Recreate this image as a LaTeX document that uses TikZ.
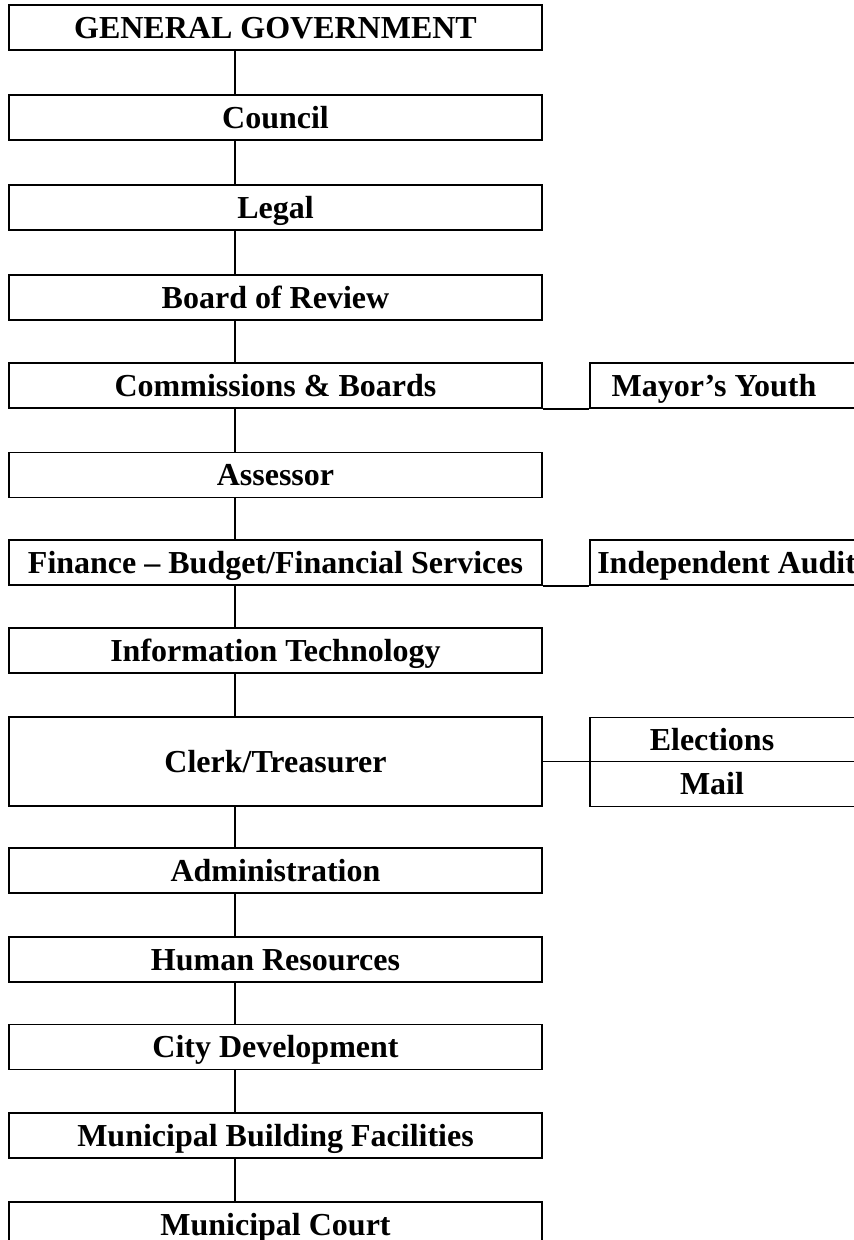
\documentclass[tikz,border=0pt]{standalone}
\usepackage{fontspec}
\setmainfont{Liberation Serif}
\begin{document}
\begin{tikzpicture}[x=0.75pt,y=-0.75pt,
  box/.style={draw, line width=1.4pt, rectangle, inner sep=0pt,
    minimum width=399.75pt, minimum height=33.75pt,
    text height=20pt, text depth=4pt,
    font=\fontsize{24}{28}\selectfont\bfseries},
  rbox/.style={draw, line width=1.4pt, rectangle, inner sep=0pt,
    minimum width=217.5pt, minimum height=33.75pt},
  lbl/.style={inner sep=0pt, text height=20pt, text depth=4pt,
    font=\fontsize{24}{28}\selectfont\bfseries},
  conn/.style={line width=1.4pt}]
\clip (0,0) rectangle (854,1240);
\fill[white] (0,0) rectangle (854,1240);
% main column
\node[box] (gg) at (275.5,27.5) {GENERAL GOVERNMENT};
\node[box] (council) at (275.5,117.5) {Council};
\node[box] (legal) at (275.5,207.5) {Legal};
\node[box] (board) at (275.5,297.5) {Board of Review};
\node[box] (comm) at (275.5,385.5) {Commissions \& Boards};
\node[box] (assessor) at (275.5,475) {Assessor};
\node[box] (finance) at (275.5,562.5) {Finance – Budget/Financial Services};
\node[box] (it) at (275.5,650.5) {Information Technology};
\node[box, minimum height=66.75pt] (clerk) at (275.5,761.5) {Clerk/Treasurer};
\node[box] (admin) at (275.5,870.5) {Administration};
\node[box] (hr) at (275.5,959.5) {Human Resources};
\node[box] (city) at (275.5,1047) {City Development};
\node[box] (mbf) at (275.5,1135.5) {Municipal Building Facilities};
\node[box] (court) at (275.5,1224.5) {Municipal Court};
% right column
\node[rbox] (my) at (735,385.5) {};
\node[lbl] (mytext) at (714,385.5) {Mayor’s Youth};
\node[rbox] (ia) at (735,562.5) {};
\node[lbl, anchor=west] (iatext) at (597,562.5) {Independent Audit};
\node[rbox, minimum height=33pt] (elec) at (735,739.5) {};
\node[lbl] (electext) at (712,739.5) {Elections};
\node[rbox] (mail) at (735,784) {};
\node[lbl] (mailtext) at (712,784) {Mail};
% connectors
\coordinate (cx) at (235,0);
\foreach \a/\b in {gg/council,council/legal,legal/board,board/comm,comm/assessor,
  assessor/finance,finance/it,it/clerk,clerk/admin,admin/hr,hr/city,city/mbf,mbf/court}
  \draw[conn] (cx |- \a.south) -- (cx |- \b.north);
\draw[conn] (comm.south east) -- (my.south west);
\draw[conn] (finance.south east) -- (ia.south west);
\draw[conn] (clerk.east) -- (clerk.east -| mail.west);
\end{tikzpicture}
\end{document}
